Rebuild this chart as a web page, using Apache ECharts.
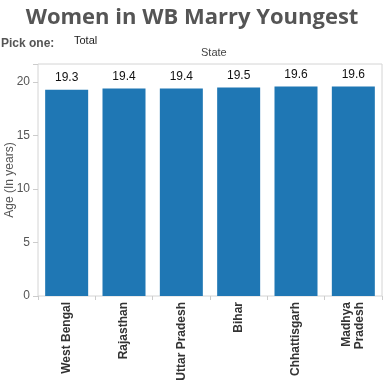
<!DOCTYPE html>
<html><head><meta charset="utf-8">
<script src="https://cdn.jsdelivr.net/npm/echarts@6/dist/echarts.min.js"></script>
<style>html,body{margin:0;padding:0;background:#fff;}#c{width:384px;height:384px;}</style>
</head><body><div id="c"></div>
<script>
var categories = ["West Bengal", "Rajasthan", "Uttar Pradesh", "Bihar", "Chhattisgarh", "Madhya\nPradesh"];
var ages = [19.3, 19.4, 19.4, 19.5, 19.6, 19.6];
var yTicks = [0, 5, 10, 15, 20];

var chart = echarts.init(document.getElementById('c'), null, {renderer: 'canvas'});
chart.setOption({
  animation: false,
  title: [
    {text: 'Women in WB Marry Youngest', left: 'center', top: 2,
     textStyle: {fontFamily: 'Open Sans', fontWeight: 'bold', fontSize: 22, color: '#555555'}},
    {text: 'Pick one:', left: -4, top: 33,
     textStyle: {fontFamily: 'Liberation Sans', fontWeight: 'bold', fontSize: 12, color: '#555555'}},
    {text: 'Total', left: 69, top: 30,
     textStyle: {fontFamily: 'Liberation Sans', fontWeight: 'normal', fontSize: 11, color: '#222222'}},
    {text: 'State', left: 196, top: 42,
     textStyle: {fontFamily: 'Liberation Sans', fontWeight: 'normal', fontSize: 11, color: '#444444'}}
  ],
  grid: {left: 38, right: 2, top: 64, bottom: 88, containLabel: false, outerBoundsMode: 'none',
    show: true, borderColor: '#d4d4d4', borderWidth: 1, backgroundColor: 'transparent'},
  xAxis: {
    type: 'category', data: categories,
    axisLine: {show: false},
    axisTick: {show: true, length: 4, lineStyle: {color: '#cccccc'}},
    axisLabel: {rotate: 90, fontFamily: 'Liberation Sans', fontWeight: 'bold', fontSize: 12, color: '#333333', margin: 6, lineHeight: 13}
  },
  yAxis: {
    type: 'value', min: 0, max: 21.7, interval: 5,
    name: 'Age (In years)', nameLocation: 'middle', nameGap: 22, nameMoveOverlap: false,
    nameTextStyle: {fontFamily: 'Liberation Sans', fontSize: 12, color: '#555555'},
    axisLine: {show: false},
    axisTick: {show: true, length: 5, lineStyle: {color: '#cccccc'}},
    splitLine: {show: false},
    axisLabel: {fontFamily: 'Liberation Sans', fontSize: 12, color: '#555555', margin: 8,
      formatter: function (v) { return yTicks.indexOf(v) >= 0 ? String(v) : ''; }}
  },
  series: [{
    type: 'bar', data: ages, barCategoryGap: '25%',
    itemStyle: {color: '#1f77b4'},
    label: {show: true, position: 'top', distance: 6, fontFamily: 'Liberation Sans', fontSize: 12, color: '#111111',
      formatter: function (p) { return p.value.toFixed(1); }}
  }]
});
</script></body></html>
